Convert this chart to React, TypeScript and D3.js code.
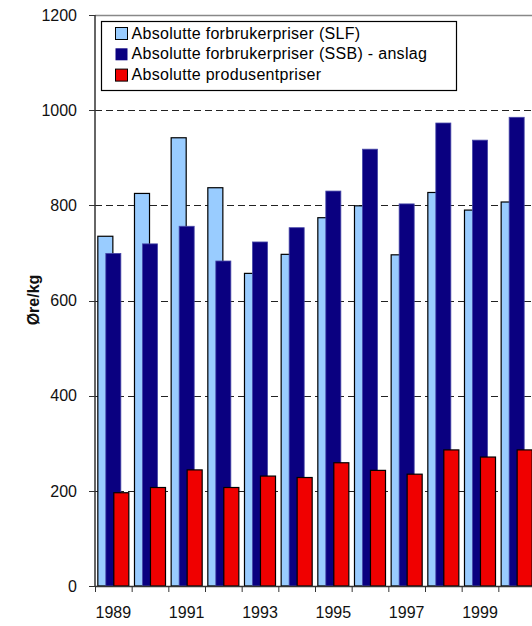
import React from "react";
import * as d3 from "d3";

const years = ["1989","1990","1991","1992","1993","1994","1995","1996","1997","1998","1999","2000"];
const slf = [735, 825, 942, 837, 657, 697, 774, 799, 696, 827, 790, 807];
const ssb = [699, 719, 756, 683, 723, 753, 830, 918, 803, 973, 937, 985];
const produsent = [196, 207, 244, 207, 231, 228, 259, 243, 235, 286, 271, 286];
const yTicks = [0, 200, 400, 600, 800, 1000, 1200];
const seriesNames = [
  "Absolutte forbrukerpriser (SLF)",
  "Absolutte forbrukerpriser (SSB) - anslag",
  "Absolutte produsentpriser",
];
const colors = ["#99CCFF", "#0A0080", "#F00000"];
const strokes = ["#000", "#4848a8", "#000"];

export default function App() {
  const W = 532, H = 626;
  const left = 95, right = 535, top = 15, bottom = 586;
  const x = d3.scaleBand().domain(years).range([left, right]).padding(0);
  const y = d3.scaleLinear().domain([0, 1200]).range([bottom, top]);
  const bw = x.bandwidth();
  const barW = bw * 0.41;
  const step = bw * 0.218;
  const series = [slf, ssb, produsent];
  const font = "'Liberation Sans', Arial, sans-serif";

  return (
    <svg width={W} height={H} style={{ position: "absolute", left: 0, top: 0, background: "#fff" }} fontFamily={font}>
      <rect x={0} y={0} width={W} height={H} fill="#fff" />
      {/* top border */}
      <line x1={left} x2={W} y1={top + 0.5} y2={top + 0.5} stroke="#888" strokeWidth={1.5} />
      {/* gridlines */}
      {yTicks.filter(t => t > 0 && t < 1200).map(t => (
        <line key={"g" + t} x1={left} x2={W} y1={Math.round(y(t)) + 0.5} y2={Math.round(y(t)) + 0.5}
          stroke="#222" strokeWidth={1} strokeDasharray="7,4" />
      ))}
      {/* bars */}
      {years.map((yr, i) => {
        const c = (x(yr) as number) + bw / 2;
        return (
          <g key={yr}>
            {series.map((s, k) => {
              const bx = c - step - barW / 2 + k * step;
              return (
                <rect key={k} x={bx} y={y(s[i])} width={barW} height={bottom - y(s[i])}
                  fill={colors[k]} stroke={strokes[k]} strokeWidth={k === 1 ? 0.8 : 1.2} />
              );
            })}
          </g>
        );
      })}
      {/* y axis */}
      <line x1={left} x2={left} y1={top} y2={bottom} stroke="#333" strokeWidth={1.5} />
      {yTicks.map(t => (
        <g key={"t" + t}>
          <line x1={left - 6} x2={left} y1={Math.round(y(t)) + 0.5} y2={Math.round(y(t)) + 0.5} stroke="#333" strokeWidth={1} />
          <text x={77} y={y(t)} dy="0.36em" textAnchor="end" fontSize={16} fill="#111">{t}</text>
        </g>
      ))}
      {/* x axis */}
      <line x1={left} x2={W} y1={bottom + 0.5} y2={bottom + 0.5} stroke="#333" strokeWidth={1.5} />
      {years.map((yr) => (
        <line key={"xt" + yr} x1={(x(yr) as number) + 0.5} x2={(x(yr) as number) + 0.5} y1={bottom} y2={bottom + 6} stroke="#333" strokeWidth={1} />
      ))}
      {years.map((yr, i) => i % 2 === 0 ? (
        <text key={"xl" + yr} x={(x(yr) as number) + bw / 2} y={618} textAnchor="middle" fontSize={16} fill="#111">{yr}</text>
      ) : null)}
      {/* y title */}
      <text transform="translate(33,300) rotate(-90)" textAnchor="middle" dy="0.36em" fontSize={16} fontWeight="bold" fill="#111">Øre/kg</text>
      {/* legend */}
      <rect x={101.5} y={21.5} width={355} height={69} fill="#fff" stroke="#000" strokeWidth={1.2} />
      {seriesNames.map((n, k) => {
        const base = 38.5 + k * 20.8;
        return (
          <g key={"l" + k}>
            <rect x={115.5} y={base - 11} width={12} height={12} fill={colors[k]} stroke={k === 1 ? "none" : "#000"} strokeWidth={1} />
            <text x={131.5} y={base} fontSize={16} letterSpacing={0.3} fill="#000">{n}</text>
          </g>
        );
      })}
    </svg>
  );
}
